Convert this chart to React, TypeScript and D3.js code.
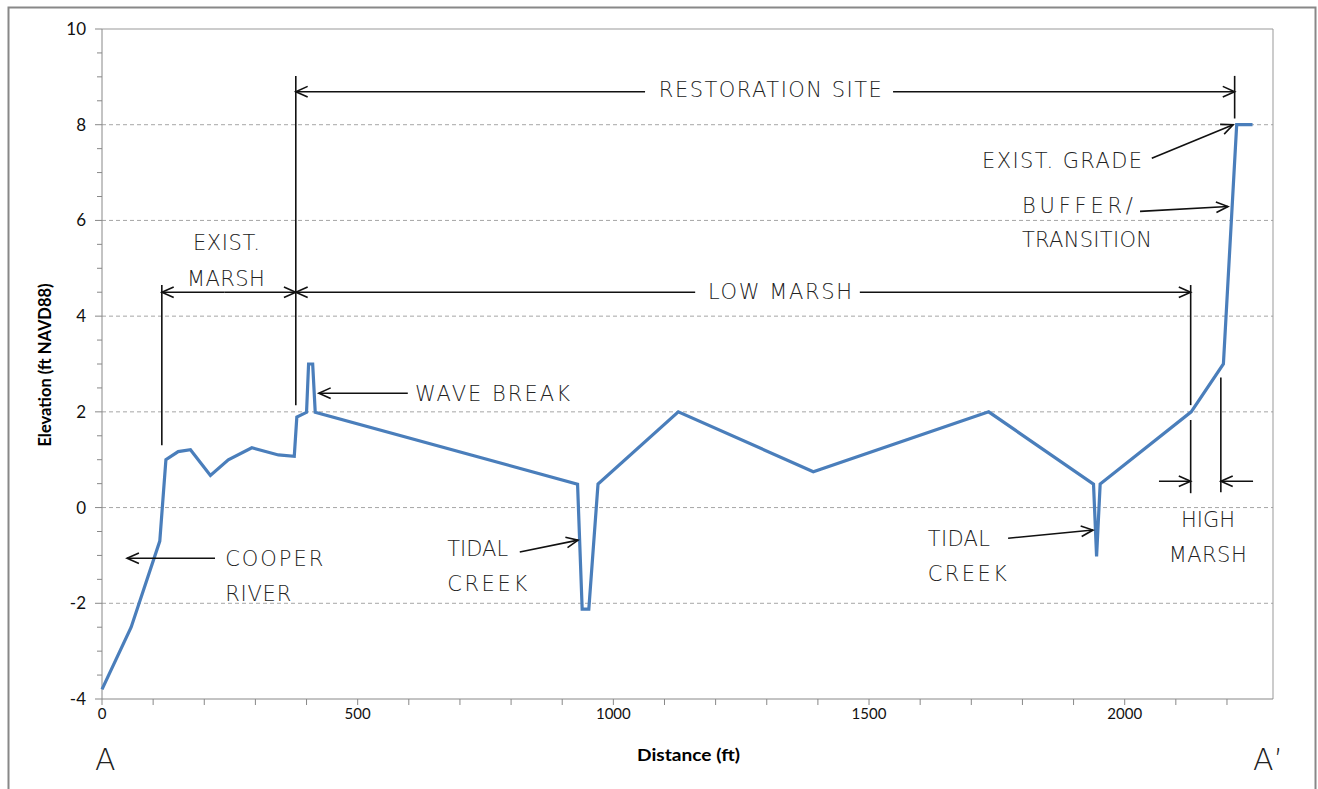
import * as d3 from 'd3';
import React from 'react';

// profile A - A' (distance ft, elevation ft NAVD88)
const distance = [0, 57, 113, 125, 149, 173, 212, 247, 293, 345, 376, 381, 400, 404, 412, 417,
  930, 939, 952, 970, 1127, 1391, 1734, 1939, 1945, 1952, 2130, 2193, 2219, 2250];
const elevation = [-3.8, -2.5, -0.7, 1.0, 1.17, 1.21, 0.67, 1.0, 1.25, 1.1, 1.07, 1.89, 1.99, 3.0, 3.0, 1.99,
  0.49, -2.12, -2.12, 0.49, 2.0, 0.75, 2.0, 0.49, -1.02, 0.49, 2.0, 3.0, 8.0, 8.0];

const yTicks = [-4, -2, 0, 2, 4, 6, 8, 10];
const xTicks = [0, 500, 1000, 1500, 2000];

// plain lines [x1, y1, x2, y2] in data units
const leaderLines = [
  [379, 9.02, 379, 2.14],
  [2215, 9.02, 2215, 8.13],
  [117, 4.65, 117, 1.3],
  [2129, 4.65, 2129, 2.14],
  [2129, 1.83, 2129, 0.3],
  [2188, 2.72, 2188, 0.32],
];

// arrows [fromX, fromY, toX, toY], head at "to"
const arrows = [
  [1062, 8.69, 379, 8.69],
  [1547, 8.69, 2215, 8.69],
  [1160, 4.5, 379, 4.5],
  [1482, 4.5, 2129, 4.5],
  [240, 4.5, 117, 4.5],
  [240, 4.5, 379, 4.5],
  [598, 2.39, 424, 2.39],
  [221, -1.06, 49, -1.06],
  [817, -0.93, 931, -0.68],
  [1772, -0.64, 1938, -0.47],
  [2067, 0.55, 2129, 0.55],
  [2251, 0.55, 2188, 0.55],
  [2053, 7.3, 2212, 8.0],
  [2030, 6.19, 2202, 6.29],
];

// label text, start x (ft), baseline (ft), width px
const labelText = ['RESTORATION  SITE', 'LOW  MARSH', 'EXIST.', 'MARSH', 'WAVE  BREAK', 'EXIST.  GRADE',
  'BUFFER/', 'TRANSITION', 'COOPER', 'RIVER', 'TIDAL', 'CREEK', 'TIDAL', 'CREEK', 'HIGH', 'MARSH'];
const labelX = [1089, 1185, 178, 166, 612, 1721, 1799, 1799, 241, 241, 675, 675, 1615, 1615, 2110, 2086];
const labelY = [8.57, 4.35, 5.39, 4.62, 2.22, 7.09, 6.15, 5.44, -1.22, -1.95, -1.02, -1.75, -0.81, -1.54, -0.41, -1.14];
const labelW = [223, 144, 67, 78, 155, 160, 111, 130, 98, 66, 61, 80, 62, 79, 54, 78];

function App() {
  const width = 1318;
  const height = 789;
  const x = d3.scaleLinear().domain([0, 2290]).range([102, 1273]);
  const y = d3.scaleLinear().domain([-4, 10]).range([699, 29]);

  const pts = distance.map((d, i) => [d, elevation[i]] as [number, number]);
  const line = d3.line<[number, number]>().x(d => x(d[0])).y(d => y(d[1]));

  const cadFont = '"DejaVu Sans", sans-serif';

  const arrowHead = (a: number[], i: number) => {
    const x1 = x(a[0]), y1 = y(a[1]), x2 = x(a[2]), y2 = y(a[3]);
    const ang = Math.atan2(y2 - y1, x2 - x1);
    const len = 13, spread = 0.42;
    const p1 = [x2 - len * Math.cos(ang - spread), y2 - len * Math.sin(ang - spread)];
    const p2 = [x2 - len * Math.cos(ang + spread), y2 - len * Math.sin(ang + spread)];
    return (
      <g key={'a' + i} stroke="#111" strokeWidth={1.6} fill="none">
        <line x1={x1} y1={y1} x2={x2} y2={y2} />
        <polyline points={`${p1[0]},${p1[1]} ${x2},${y2} ${p2[0]},${p2[1]}`} />
      </g>
    );
  };

  const minorY = d3.range(-4, 10.01, 0.5);
  const minorX = d3.range(0, 2290, 100);

  return (
    <div>
      <style>{'body{margin:0}'}</style>
      <svg width={width} height={height} style={{ display: 'block' }}>
        <rect x={0} y={0} width={width} height={height} fill="#fff" />
        <rect x={8.5} y={7.5} width={1307} height={790} fill="none" stroke="#888" strokeWidth={2} />

        {/* gridlines */}
        {yTicks.filter(t => t > -4 && t < 10).map(t => (
          <line key={'g' + t} x1={x(0)} x2={x(2290)} y1={y(t)} y2={y(t)}
            stroke="#a6a6a6" strokeWidth={1} strokeDasharray="4,3" />
        ))}
        {/* plot area border */}
        <line x1={x(0)} x2={x(2290)} y1={y(10)} y2={y(10)} stroke="#999" />
        <line x1={x(2290)} x2={x(2290)} y1={y(10)} y2={y(-4)} stroke="#999" />

        {/* axes */}
        <line x1={x(0)} x2={x(0)} y1={y(10)} y2={y(-4)} stroke="#888" />
        <line x1={x(0)} x2={x(2290)} y1={y(-4)} y2={y(-4)} stroke="#888" />
        {minorY.map(t => (
          <line key={'my' + t} x1={x(0) - (t % 2 === 0 ? 7 : 5)} x2={x(0)} y1={y(t)} y2={y(t)} stroke="#888" />
        ))}
        {minorX.map(t => (
          <line key={'mx' + t} x1={x(t)} x2={x(t)} y1={y(-4)} y2={y(-4) + 6} stroke="#888" />
        ))}
        {yTicks.map(t => (
          <text key={'yl' + t} x={x(0) - 16} y={y(t)} dy="0.35em" textAnchor="end"
            fontFamily="Lato, sans-serif" fontSize={17} fill="#111">{t}</text>
        ))}
        {xTicks.map(t => (
          <text key={'xl' + t} x={x(t)} y={y(-4) + 20} textAnchor="middle"
            fontFamily="Lato, sans-serif" fontSize={15} fill="#111">{t}</text>
        ))}
        <text x={637} y={761} textLength={103} lengthAdjust="spacingAndGlyphs" fontFamily="Lato, sans-serif"
          fontWeight="bold" fontSize={17}>
          Distance (ft)
        </text>
        <text transform={`translate(51,365) rotate(-90)`} textAnchor="middle" fontFamily="Lato, sans-serif"
          fontWeight="bold" fontSize={16.5}>
          Elevation (ft NAVD88)
        </text>

        {/* profile line */}
        <path d={line(pts) || ''} fill="none" stroke="#4a7ebb" strokeWidth={3.2} strokeLinejoin="miter" />

        {/* annotations */}
        {leaderLines.map((l, i) => (
          <line key={'l' + i} x1={x(l[0])} y1={y(l[1])} x2={x(l[2])} y2={y(l[3])} stroke="#111" strokeWidth={1.6} />
        ))}
        {arrows.map(arrowHead)}
        {labelText.map((t, i) => (
          <text key={'t' + i} x={x(labelX[i])} y={y(labelY[i])} textLength={labelW[i]} lengthAdjust="spacing"
            fontFamily={cadFont} fontWeight={200} fontSize={21} fill="#222">{t}</text>
        ))}
        <text x={x(0) - 7} y={770} textLength={16} fontFamily={cadFont} fontWeight={200} fontSize={30} fill="#222">A</text>
        <text x={1253} y={770} fontFamily={cadFont} fontWeight={200} fontSize={30} fill="#222">A’</text>
      </svg>
    </div>
  );
}

export default App;
